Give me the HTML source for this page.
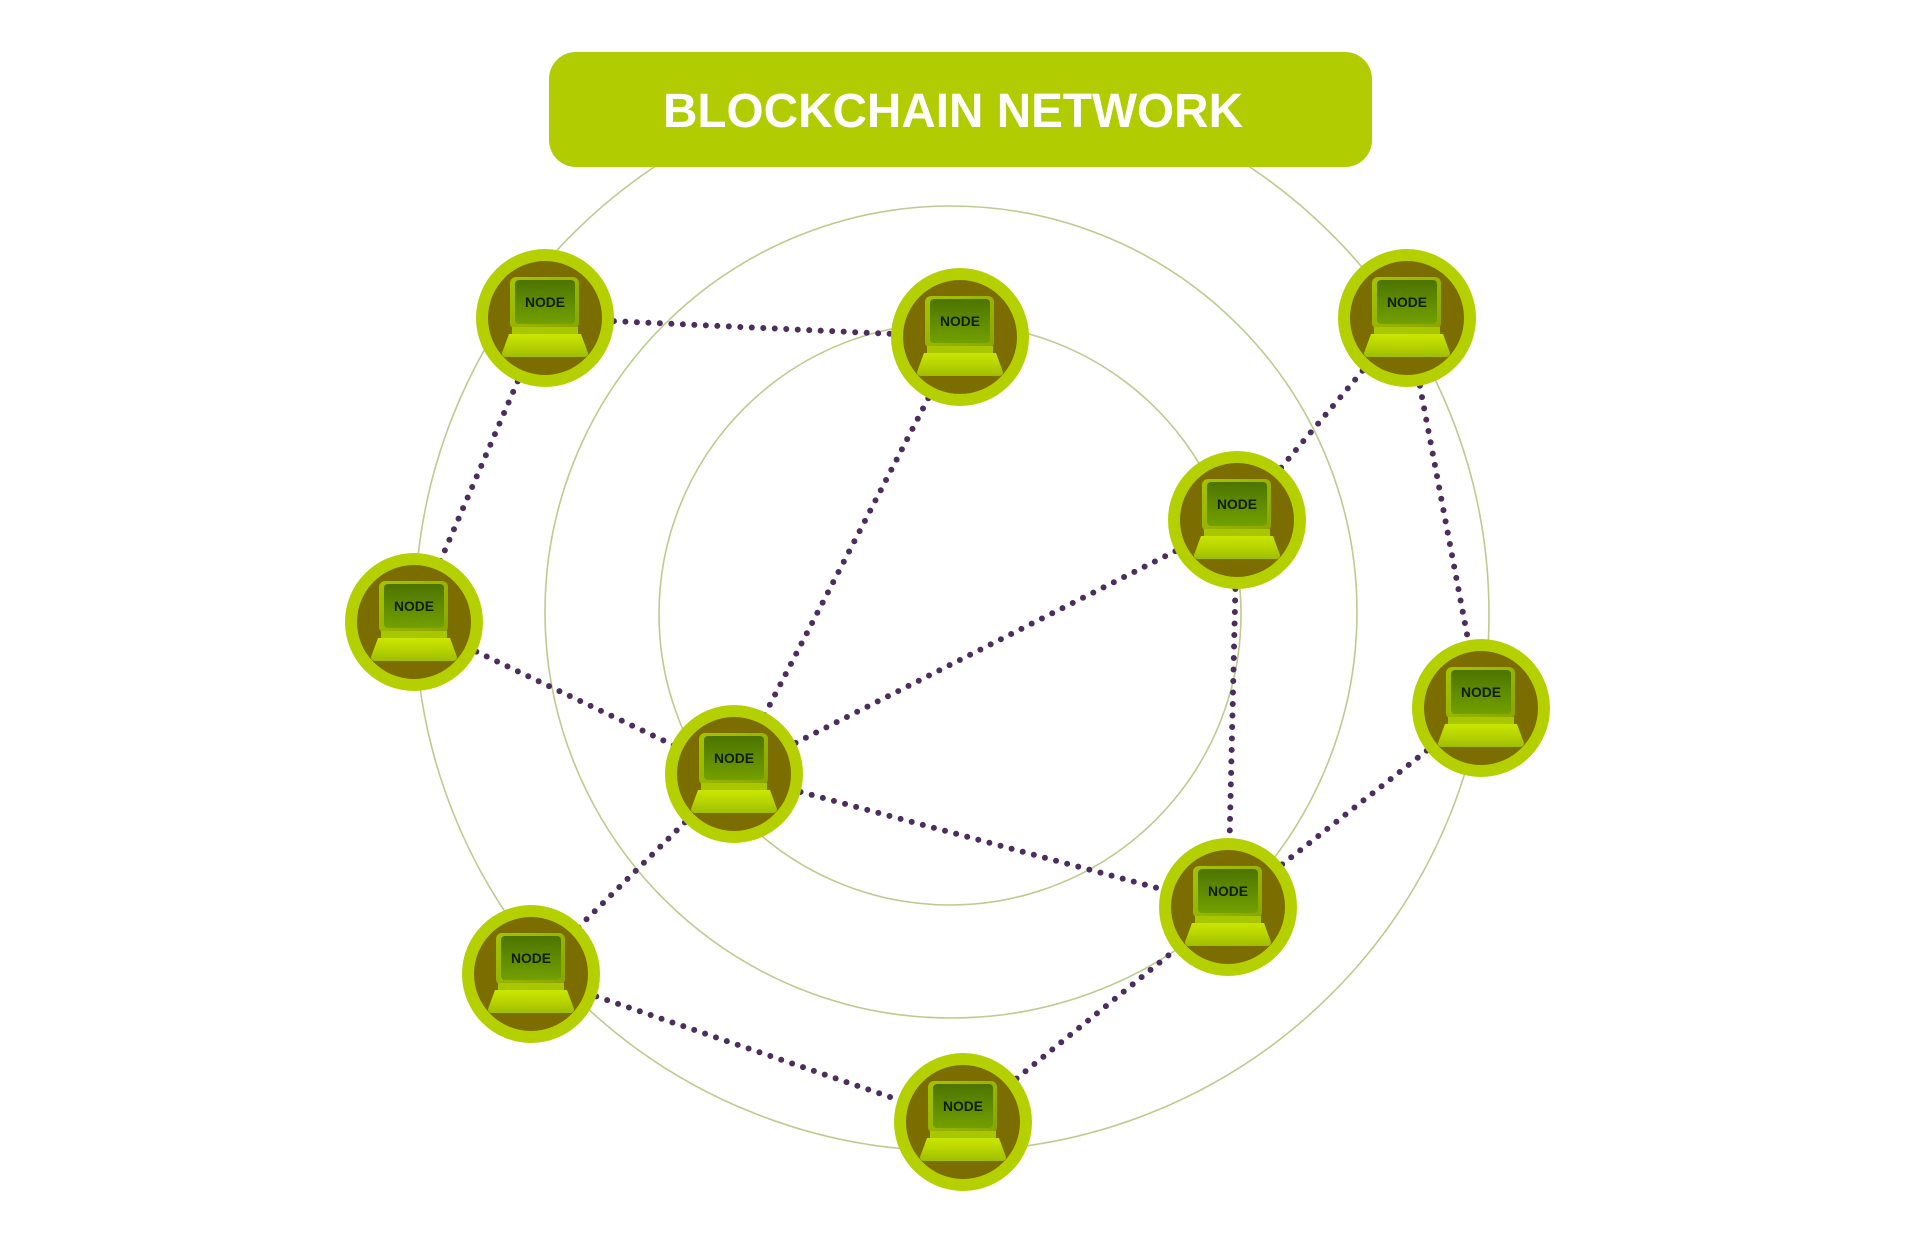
<!DOCTYPE html>
<html>
<head>
<meta charset="utf-8">
<style>
  html,body{margin:0;padding:0;background:#ffffff;}
  body{width:1920px;height:1244px;overflow:hidden;}
  svg{display:block;}
  .nt{font-family:"Liberation Sans",sans-serif;font-weight:bold;font-size:14px;fill:#0f1e00;}
</style>
</head>
<body>
<svg width="1920" height="1244" viewBox="0 0 1920 1244" xmlns="http://www.w3.org/2000/svg">
  <defs>
    <linearGradient id="scr" x1="0" y1="0" x2="0" y2="1">
      <stop offset="0" stop-color="#4c7400"/>
      <stop offset="1" stop-color="#72a000"/>
    </linearGradient>
    <linearGradient id="base" x1="0" y1="0" x2="0" y2="1">
      <stop offset="0" stop-color="#c9e600"/>
      <stop offset="0.5" stop-color="#b6d400"/>
      <stop offset="1" stop-color="#9fbd00"/>
    </linearGradient>
    <linearGradient id="frame" x1="0" y1="0" x2="1" y2="1">
      <stop offset="0" stop-color="#a6c400"/>
      <stop offset="1" stop-color="#8aa600"/>
    </linearGradient>
  </defs>

  <!-- concentric circles -->
  <g fill="none" stroke="#bccb8e" stroke-width="1.6">
    <circle cx="952" cy="614" r="537"/>
    <circle cx="951" cy="612" r="406"/>
    <circle cx="950" cy="614" r="291"/>
  </g>

  <!-- dotted connectors -->
  <g stroke="#4b2d5e" stroke-width="6" stroke-linecap="round" stroke-dasharray="0 11.5" fill="none">
    <line x1="545" y1="318" x2="960" y2="337"/>
    <line x1="545" y1="318" x2="414" y2="622"/>
    <line x1="960" y1="337" x2="734" y2="774"/>
    <line x1="1407" y1="318" x2="1237" y2="520"/>
    <line x1="1407" y1="318" x2="1481" y2="708"/>
    <line x1="1237" y1="520" x2="734" y2="774"/>
    <line x1="1237" y1="520" x2="1228" y2="907"/>
    <line x1="414" y1="622" x2="734" y2="774"/>
    <line x1="1481" y1="708" x2="1228" y2="907"/>
    <line x1="734" y1="774" x2="1228" y2="907"/>
    <line x1="734" y1="774" x2="531" y2="974"/>
    <line x1="531" y1="974" x2="963" y2="1122"/>
    <line x1="963" y1="1122" x2="1228" y2="907"/>
  </g>

  <!-- title -->
  <rect x="549" y="52" width="823" height="115" rx="27" fill="#b1cc00"/>
  <text x="663" y="127" textLength="580" lengthAdjust="spacingAndGlyphs" font-family="Liberation Sans, sans-serif" font-weight="bold" font-size="48" fill="#ffffff">BLOCKCHAIN NETWORK</text>

  <!-- nodes -->
  <g transform="translate(545,318)">
    <circle r="69" fill="#b5d000"/><circle r="57" fill="#7b6d00"/>
    <rect x="-35" y="-41" width="69" height="52" rx="6" fill="url(#frame)"/>
    <rect x="-30" y="-38" width="60" height="44" rx="4" fill="url(#scr)"/>
    <rect x="-33" y="9" width="66" height="8" fill="#a9c700"/>
    <path d="M-36,16 H36 L43,35 Q43,39 39,39 H-39 Q-43,39 -43,35 Z" fill="url(#base)"/>
    <text class="nt" x="0" y="-11" text-anchor="middle" textLength="40" lengthAdjust="spacingAndGlyphs">NODE</text>
  </g>
  <g transform="translate(960,337)">
    <circle r="69" fill="#b5d000"/><circle r="57" fill="#7b6d00"/>
    <rect x="-35" y="-41" width="69" height="52" rx="6" fill="url(#frame)"/>
    <rect x="-30" y="-38" width="60" height="44" rx="4" fill="url(#scr)"/>
    <rect x="-33" y="9" width="66" height="8" fill="#a9c700"/>
    <path d="M-36,16 H36 L43,35 Q43,39 39,39 H-39 Q-43,39 -43,35 Z" fill="url(#base)"/>
    <text class="nt" x="0" y="-11" text-anchor="middle" textLength="40" lengthAdjust="spacingAndGlyphs">NODE</text>
  </g>
  <g transform="translate(1407,318)">
    <circle r="69" fill="#b5d000"/><circle r="57" fill="#7b6d00"/>
    <rect x="-35" y="-41" width="69" height="52" rx="6" fill="url(#frame)"/>
    <rect x="-30" y="-38" width="60" height="44" rx="4" fill="url(#scr)"/>
    <rect x="-33" y="9" width="66" height="8" fill="#a9c700"/>
    <path d="M-36,16 H36 L43,35 Q43,39 39,39 H-39 Q-43,39 -43,35 Z" fill="url(#base)"/>
    <text class="nt" x="0" y="-11" text-anchor="middle" textLength="40" lengthAdjust="spacingAndGlyphs">NODE</text>
  </g>
  <g transform="translate(1237,520)">
    <circle r="69" fill="#b5d000"/><circle r="57" fill="#7b6d00"/>
    <rect x="-35" y="-41" width="69" height="52" rx="6" fill="url(#frame)"/>
    <rect x="-30" y="-38" width="60" height="44" rx="4" fill="url(#scr)"/>
    <rect x="-33" y="9" width="66" height="8" fill="#a9c700"/>
    <path d="M-36,16 H36 L43,35 Q43,39 39,39 H-39 Q-43,39 -43,35 Z" fill="url(#base)"/>
    <text class="nt" x="0" y="-11" text-anchor="middle" textLength="40" lengthAdjust="spacingAndGlyphs">NODE</text>
  </g>
  <g transform="translate(414,622)">
    <circle r="69" fill="#b5d000"/><circle r="57" fill="#7b6d00"/>
    <rect x="-35" y="-41" width="69" height="52" rx="6" fill="url(#frame)"/>
    <rect x="-30" y="-38" width="60" height="44" rx="4" fill="url(#scr)"/>
    <rect x="-33" y="9" width="66" height="8" fill="#a9c700"/>
    <path d="M-36,16 H36 L43,35 Q43,39 39,39 H-39 Q-43,39 -43,35 Z" fill="url(#base)"/>
    <text class="nt" x="0" y="-11" text-anchor="middle" textLength="40" lengthAdjust="spacingAndGlyphs">NODE</text>
  </g>
  <g transform="translate(1481,708)">
    <circle r="69" fill="#b5d000"/><circle r="57" fill="#7b6d00"/>
    <rect x="-35" y="-41" width="69" height="52" rx="6" fill="url(#frame)"/>
    <rect x="-30" y="-38" width="60" height="44" rx="4" fill="url(#scr)"/>
    <rect x="-33" y="9" width="66" height="8" fill="#a9c700"/>
    <path d="M-36,16 H36 L43,35 Q43,39 39,39 H-39 Q-43,39 -43,35 Z" fill="url(#base)"/>
    <text class="nt" x="0" y="-11" text-anchor="middle" textLength="40" lengthAdjust="spacingAndGlyphs">NODE</text>
  </g>
  <g transform="translate(734,774)">
    <circle r="69" fill="#b5d000"/><circle r="57" fill="#7b6d00"/>
    <rect x="-35" y="-41" width="69" height="52" rx="6" fill="url(#frame)"/>
    <rect x="-30" y="-38" width="60" height="44" rx="4" fill="url(#scr)"/>
    <rect x="-33" y="9" width="66" height="8" fill="#a9c700"/>
    <path d="M-36,16 H36 L43,35 Q43,39 39,39 H-39 Q-43,39 -43,35 Z" fill="url(#base)"/>
    <text class="nt" x="0" y="-11" text-anchor="middle" textLength="40" lengthAdjust="spacingAndGlyphs">NODE</text>
  </g>
  <g transform="translate(1228,907)">
    <circle r="69" fill="#b5d000"/><circle r="57" fill="#7b6d00"/>
    <rect x="-35" y="-41" width="69" height="52" rx="6" fill="url(#frame)"/>
    <rect x="-30" y="-38" width="60" height="44" rx="4" fill="url(#scr)"/>
    <rect x="-33" y="9" width="66" height="8" fill="#a9c700"/>
    <path d="M-36,16 H36 L43,35 Q43,39 39,39 H-39 Q-43,39 -43,35 Z" fill="url(#base)"/>
    <text class="nt" x="0" y="-11" text-anchor="middle" textLength="40" lengthAdjust="spacingAndGlyphs">NODE</text>
  </g>
  <g transform="translate(531,974)">
    <circle r="69" fill="#b5d000"/><circle r="57" fill="#7b6d00"/>
    <rect x="-35" y="-41" width="69" height="52" rx="6" fill="url(#frame)"/>
    <rect x="-30" y="-38" width="60" height="44" rx="4" fill="url(#scr)"/>
    <rect x="-33" y="9" width="66" height="8" fill="#a9c700"/>
    <path d="M-36,16 H36 L43,35 Q43,39 39,39 H-39 Q-43,39 -43,35 Z" fill="url(#base)"/>
    <text class="nt" x="0" y="-11" text-anchor="middle" textLength="40" lengthAdjust="spacingAndGlyphs">NODE</text>
  </g>
  <g transform="translate(963,1122)">
    <circle r="69" fill="#b5d000"/><circle r="57" fill="#7b6d00"/>
    <rect x="-35" y="-41" width="69" height="52" rx="6" fill="url(#frame)"/>
    <rect x="-30" y="-38" width="60" height="44" rx="4" fill="url(#scr)"/>
    <rect x="-33" y="9" width="66" height="8" fill="#a9c700"/>
    <path d="M-36,16 H36 L43,35 Q43,39 39,39 H-39 Q-43,39 -43,35 Z" fill="url(#base)"/>
    <text class="nt" x="0" y="-11" text-anchor="middle" textLength="40" lengthAdjust="spacingAndGlyphs">NODE</text>
  </g>
</svg>
</body>
</html>
